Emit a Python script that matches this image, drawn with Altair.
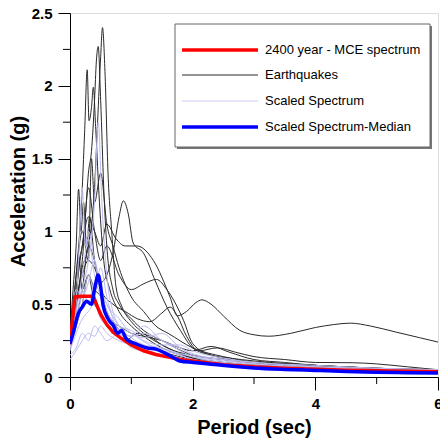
import altair as alt
import pandas as pd

# ---------------- data ----------------
# Earthquake spectra (black)
eq = {
    "E1": ([0, 0.05, 0.1, 0.2, 0.3, 0.4, 0.45, 0.5, 0.53, 0.57, 0.62, 0.68, 0.75, 0.85, 1.0, 1.2, 1.5, 1.8, 2.0, 2.5, 3.0, 4.0, 5.0, 6.0],
           [0.3, 0.4, 0.5, 0.75, 0.9, 1.3, 1.75, 2.2, 2.4, 2.1, 1.4, 1.0, 0.62, 0.48, 0.38, 0.3, 0.22, 0.16, 0.13, 0.1, 0.08, 0.06, 0.05, 0.04]),
    "E2": ([0, 0.05, 0.1, 0.15, 0.2, 0.24, 0.28, 0.31, 0.35, 0.38, 0.42, 0.48, 0.55, 0.65, 0.8, 1.0, 1.2, 1.5, 2.0, 2.5, 3, 4, 5, 6],
           [0.3, 0.45, 0.7, 0.95, 1.3, 1.7, 2.11, 1.76, 1.85, 1.99, 1.7, 1.2, 0.8, 0.6, 0.45, 0.35, 0.28, 0.2, 0.13, 0.1, 0.08, 0.06, 0.05, 0.04]),
    "E3": ([0, 0.05, 0.1, 0.15, 0.2, 0.25, 0.3, 0.35, 0.4, 0.43, 0.46, 0.5, 0.55, 0.6, 0.7, 0.8, 1.0, 1.2, 1.5, 2, 2.5, 3, 4, 5, 6],
           [0.25, 0.5, 0.6, 0.8, 0.9, 1.1, 1.4, 1.55, 1.9, 2.17, 2.27, 1.9, 1.3, 0.9, 0.6, 0.5, 0.4, 0.32, 0.25, 0.15, 0.12, 0.09, 0.07, 0.05, 0.04]),
    "E4": ([0, 0.1, 0.2, 0.3, 0.4, 0.5, 0.6, 0.7, 0.8, 0.87, 0.95, 1.03, 1.2, 1.39, 1.58, 1.8, 2.0, 2.3, 2.6, 3, 3.5, 4, 5, 6],
           [0.3, 0.5, 0.7, 0.8, 0.75, 0.65, 0.7, 0.85, 1.1, 1.21, 1.12, 0.92, 0.85, 0.66, 0.48, 0.32, 0.2, 0.15, 0.12, 0.1, 0.09, 0.08, 0.06, 0.05]),
    "E5": ([0, 0.1, 0.2, 0.3, 0.4, 0.5, 0.6, 0.75, 0.9, 1.09, 1.36, 1.63, 1.75, 1.9, 2.05, 2.15, 2.3, 2.5, 2.77, 3.0, 3.24, 3.6, 4.0, 4.3, 4.57, 4.9, 5.3, 5.7, 6.0],
           [0.3, 0.6, 0.9, 1.1, 1.0, 0.9, 1.05, 0.95, 0.9, 0.9, 0.8, 0.55, 0.42, 0.45, 0.51, 0.53, 0.5, 0.42, 0.32, 0.29, 0.28, 0.3, 0.34, 0.36, 0.37, 0.35, 0.31, 0.27, 0.24]),
    "E6": ([0, 0.1, 0.2, 0.3, 0.4, 0.5, 0.6, 0.8, 1.0, 1.2, 1.41, 1.58, 1.85, 2.0, 2.3, 2.6, 3, 4, 5, 6],
           [0.25, 0.5, 0.8, 1.3, 1.0, 0.8, 0.9, 0.7, 0.6, 0.64, 0.67, 0.6, 0.39, 0.23, 0.15, 0.13, 0.11, 0.08, 0.06, 0.05]),
    "E7": ([0, 0.1, 0.2, 0.3, 0.4, 0.5, 0.7, 0.9, 1.1, 1.3, 1.5, 1.63, 1.75, 1.9, 2.1, 2.4, 2.7, 3, 3.5, 4, 4.6, 5, 5.5, 6],
           [0.2, 0.4, 0.6, 0.9, 0.8, 0.6, 0.5, 0.45, 0.4, 0.38, 0.44, 0.48, 0.42, 0.28, 0.18, 0.2, 0.17, 0.14, 0.12, 0.1, 0.098, 0.09, 0.07, 0.05]),
    "E8": ([0, 0.1, 0.2, 0.3, 0.4, 0.5, 0.6, 0.8, 1.0, 1.2, 1.5, 1.8, 2.0, 2.3, 2.6, 3, 3.5, 4, 5, 6],
           [0.2, 0.35, 0.5, 0.7, 0.6, 0.55, 0.4, 0.35, 0.3, 0.28, 0.25, 0.2, 0.18, 0.21, 0.17, 0.12, 0.1, 0.08, 0.06, 0.04]),
    "E9": ([0, 0.05, 0.1, 0.14, 0.18, 0.22, 0.27, 0.32, 0.4, 0.5, 0.6, 0.7, 0.85, 1.0, 1.3, 1.6, 2, 2.5, 3, 4, 5, 6],
           [0.3, 0.6, 0.9, 1.29, 1.0, 1.2, 0.9, 1.1, 0.8, 0.6, 0.45, 0.38, 0.3, 0.25, 0.2, 0.16, 0.12, 0.09, 0.07, 0.05, 0.04, 0.03]),
    "E10": ([0, 0.1, 0.2, 0.3, 0.35, 0.4, 0.5, 0.6, 0.7, 0.8, 1.0, 1.2, 1.4, 1.6, 2, 2.5, 3, 4, 5, 6],
            [0.25, 0.7, 1.0, 0.8, 1.5, 1.2, 1.4, 1.05, 0.9, 0.75, 0.55, 0.45, 0.35, 0.3, 0.2, 0.14, 0.1, 0.07, 0.05, 0.04]),
    "E11": ([0, 0.1, 0.15, 0.2, 0.3, 0.4, 0.5, 0.6, 0.75, 0.9, 1.1, 1.3, 1.5, 1.7, 2, 2.5, 3, 3.5, 4, 5, 6],
            [0.2, 0.45, 0.8, 0.6, 0.7, 0.5, 0.45, 0.35, 0.3, 0.25, 0.3, 0.28, 0.22, 0.18, 0.15, 0.12, 0.1, 0.09, 0.08, 0.06, 0.05]),
}

# Scaled spectra (light lavender)
T_s = [0, 0.1, 0.2, 0.3, 0.4, 0.5, 0.6, 0.8, 1.0, 1.2, 1.5, 1.8, 2.0, 2.5, 3, 4, 5, 6]
scaled = {
    "S1": ([0, 0.1, 0.2, 0.3, 0.4, 0.46, 0.52, 0.6, 0.7, 0.8, 1.0, 1.2, 1.5, 2, 2.5, 3, 4, 5, 6],
           [0.2, 0.35, 0.6, 0.8, 1.2, 1.75, 1.2, 0.7, 0.45, 0.35, 0.27, 0.22, 0.17, 0.11, 0.08, 0.06, 0.05, 0.04, 0.03]),
    "S2": ([0, 0.1, 0.15, 0.2, 0.25, 0.3, 0.4, 0.5, 0.6, 0.8, 1.0, 1.3, 1.6, 2, 2.5, 3, 4, 5, 6],
           [0.22, 0.5, 0.9, 1.3, 0.9, 1.0, 0.8, 0.6, 0.5, 0.35, 0.3, 0.22, 0.18, 0.12, 0.09, 0.07, 0.05, 0.04, 0.03]),
    "S3": ([0, 0.1, 0.2, 0.3, 0.4, 0.5, 0.6, 0.7, 0.85, 1.0, 1.2, 1.5, 1.8, 2.0, 2.5, 3, 4, 5, 6],
           [0.2, 0.35, 0.5, 0.7, 0.6, 0.75, 0.55, 0.4, 0.3, 0.28, 0.3, 0.25, 0.18, 0.14, 0.1, 0.08, 0.06, 0.05, 0.04]),
    "S4": (T_s, [0.12, 0.18, 0.25, 0.3, 0.28, 0.35, 0.3, 0.25, 0.22, 0.2, 0.18, 0.15, 0.12, 0.1, 0.08, 0.06, 0.05, 0.04]),
    "S5": (T_s, [0.15, 0.2, 0.3, 0.25, 0.35, 0.3, 0.25, 0.3, 0.2, 0.18, 0.15, 0.13, 0.11, 0.09, 0.07, 0.05, 0.04, 0.03]),
    "S6": (T_s, [0.25, 0.45, 0.7, 0.95, 0.7, 0.6, 0.5, 0.4, 0.3, 0.27, 0.3, 0.2, 0.16, 0.12, 0.09, 0.07, 0.05, 0.04]),
    "S7": (T_s, [0.2, 0.6, 0.55, 0.65, 0.8, 0.6, 0.45, 0.35, 0.32, 0.25, 0.22, 0.22, 0.18, 0.13, 0.1, 0.08, 0.06, 0.05]),
    "S8": (T_s, [0.18, 0.3, 0.4, 0.45, 0.5, 0.4, 0.35, 0.3, 0.25, 0.22, 0.2, 0.16, 0.14, 0.11, 0.09, 0.06, 0.05, 0.04]),
    "S9": (T_s, [0.22, 0.4, 0.6, 0.5, 0.65, 0.55, 0.45, 0.32, 0.28, 0.35, 0.25, 0.2, 0.15, 0.12, 0.1, 0.07, 0.06, 0.05]),
}

# 2400 year MCE spectrum (red)
mce_T = [0, 0.08, 0.2, 0.38, 0.45, 0.5, 0.6, 0.7, 0.82, 1.0, 1.2, 1.4, 1.63, 1.8, 2.0, 2.2, 2.5, 3.0, 3.5, 4.0, 4.5, 5.0, 5.5, 6.0]
mce_A = [0.225, 0.55, 0.555, 0.555, 0.48, 0.43, 0.36, 0.31, 0.27, 0.22, 0.18, 0.155, 0.135, 0.12, 0.11, 0.10, 0.085, 0.07, 0.06, 0.053, 0.047, 0.043, 0.039, 0.036]

# Scaled spectrum median (blue)
med_T = [0, 0.05, 0.14, 0.2, 0.27, 0.35, 0.4, 0.46, 0.5, 0.54, 0.62, 0.71, 0.78, 0.84, 0.92, 1.09, 1.25, 1.41, 1.63, 1.79, 2.01, 2.3, 2.56, 3.0, 3.5, 4.0, 4.5, 5.0, 5.5, 6.0]
med_A = [0.23, 0.3, 0.44, 0.48, 0.52, 0.5, 0.6, 0.70, 0.62, 0.49, 0.4, 0.35, 0.3, 0.32, 0.26, 0.225, 0.2, 0.19, 0.146, 0.11, 0.10, 0.088, 0.077, 0.062, 0.052, 0.045, 0.038, 0.033, 0.03, 0.027]

legend_labels = ["2400 year - MCE spectrum", "Earthquakes", "Scaled Spectrum", "Scaled Spectrum-Median"]
x_major = [0, 2, 4, 6]
x_minor = [1, 3, 5]
y_major = [0, 0.5, 1, 1.5, 2, 2.5]
y_minor = [0.25, 0.75, 1.25, 1.75, 2.25]

# ---------------- build tables ----------------
def long_table(curves):
    rows = []
    for name, (T, A) in curves.items():
        for t, a in zip(T, A):
            rows.append({"curve": name, "period": t, "acc": a})
    return pd.DataFrame(rows)

eq_df = long_table(eq)
sc_df = long_table(scaled)
mce_df = pd.DataFrame({"period": mce_T, "acc": mce_A})
med_df = pd.DataFrame({"period": med_T, "acc": med_A})

W, H = 368, 364
FONT = "Liberation Sans"

xs = alt.Scale(domain=[0, 6], nice=False, zero=False)
ys = alt.Scale(domain=[0, 2.5], nice=False)

x_axis = alt.Axis(values=x_major, tickSize=13, tickColor="black", domainColor="black",
                  labelFont=FONT, labelFontSize=15, labelFontWeight="bold", labelColor="black",
                  labelPadding=6, labelFlush=False, grid=False,
                  title="Period (sec)", titleFont=FONT, titleFontSize=20, titleFontWeight="bold",
                  titleColor="black", titleX=W / 2, titleY=56, titleBaseline="alphabetic")
y_axis = alt.Axis(values=y_major, format="~g", tickSize=12, tickColor="black", domainColor="black",
                  labelFont=FONT, labelFontSize=15, labelFontWeight="bold", labelColor="black",
                  labelPadding=6, grid=False,
                  title="Acceleration (g)", titleFont=FONT, titleFontSize=20, titleFontWeight="bold",
                  titleColor="black", titleX=-46, titleY=178, titleAngle=-90, titleBaseline="alphabetic")

X = alt.X("period:Q", scale=xs, axis=x_axis)
Y = alt.Y("acc:Q", scale=ys, axis=y_axis)

eq_layer = alt.Chart(eq_df).mark_line(color="#2a2a2a", strokeWidth=1, interpolate="monotone", clip=True).encode(
    x=X, y=Y, detail="curve:N")
sc_layer = alt.Chart(sc_df).mark_line(color="#bcbcf0", strokeWidth=1, interpolate="monotone", clip=True).encode(
    x=X, y=Y, detail="curve:N")
mce_layer = alt.Chart(mce_df).mark_line(color="#ff0000", strokeWidth=3.5, clip=True).encode(x=X, y=Y)
med_layer = alt.Chart(med_df).mark_line(color="#0000ff", strokeWidth=3.5, interpolate="monotone", clip=True).encode(x=X, y=Y)

# minor ticks
xminor_layer = alt.Chart(pd.DataFrame({"period": x_minor})).mark_rule(color="black", strokeWidth=1).encode(
    x=X, y=alt.value(H), y2=alt.value(H + 7))
yminor_layer = alt.Chart(pd.DataFrame({"acc": y_minor})).mark_rule(color="black", strokeWidth=1).encode(
    y=Y, x=alt.value(-7), x2=alt.value(0))

# legend (drawn manually)
one = pd.DataFrame({"k": [0]})
leg_shadow = alt.Chart(one).mark_rect(fill="#777777").encode(
    x=alt.value(107), x2=alt.value(362), y=alt.value(13), y2=alt.value(136))
leg_box = alt.Chart(one).mark_rect(fill="white", stroke="#666666", strokeWidth=1).encode(
    x=alt.value(105), x2=alt.value(360), y=alt.value(11), y2=alt.value(134))
leg_colors = ["#ff0000", "#2a2a2a", "#dcdcf8", "#0000ff"]
leg_widths = [3.5, 1, 1.5, 3.5]
leg_rows = [37, 62, 88, 114]
leg_layers = []
for lab, col, wid, yy in zip(legend_labels, leg_colors, leg_widths, leg_rows):
    d = pd.DataFrame({"label": [lab]})
    leg_layers.append(alt.Chart(d).mark_rule(color=col, strokeWidth=wid).encode(
        x=alt.value(112), x2=alt.value(188), y=alt.value(yy)))
    leg_layers.append(alt.Chart(d).mark_text(align="left", baseline="middle", font=FONT,
                                             fontSize=13, color="black").encode(
        x=alt.value(195), y=alt.value(yy), text="label:N"))

chart = alt.layer(
    eq_layer, sc_layer, mce_layer, med_layer, xminor_layer, yminor_layer,
    leg_shadow, leg_box, *leg_layers
).properties(
    width=W, height=H,
    autosize=alt.AutoSizeParams(type="none"),
    padding={"left": 70, "top": 13, "right": 2, "bottom": 62},
).configure_view(
    stroke="#222222", strokeWidth=1
).configure(background="white")

chart.save("out.html", embed_options={"renderer": "svg", "actions": False})
